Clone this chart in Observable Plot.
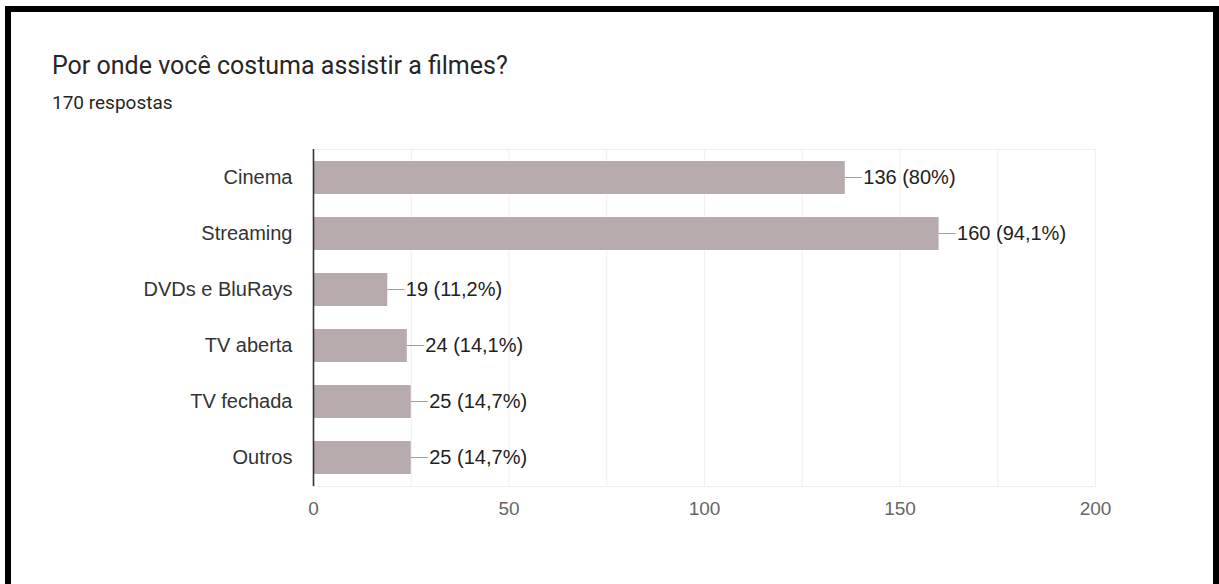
<!DOCTYPE html>
<html>
<head>
<meta charset="utf-8">
<script src="https://cdn.jsdelivr.net/npm/d3@7"></script>
<script src="https://cdn.jsdelivr.net/npm/@observablehq/plot@0.6"></script>
<style>
  html, body { margin: 0; padding: 0; background: #fff; width: 1219px; height: 584px; overflow: hidden; font-family: Roboto, "Noto Sans", sans-serif; }
  #frame { position: absolute; left: 5px; top: 6px; right: 0; bottom: 0; border: solid #000; border-width: 6px 6px 0 6px; }
  #title { position: absolute; left: 52px; top: 51px; font-size: 25px; color: #262626; white-space: nowrap; }
  #subtitle { position: absolute; left: 52px; top: 91px; font-size: 19px; color: #262626; white-space: nowrap; }
  #chart { position: absolute; left: 0; top: 120px; }
</style>
</head>
<body>
<div id="frame"></div>
<div id="title">Por onde você costuma assistir a filmes?</div>
<div id="subtitle">170 respostas</div>
<div id="chart"></div>
<script>
const categories = ["Cinema", "Streaming", "DVDs e BluRays", "TV aberta", "TV fechada", "Outros"];
const counts = [136, 160, 19, 24, 25, 25];
const percents = ["80%", "94,1%", "11,2%", "14,1%", "14,7%", "14,7%"];
const xTicks = [0, 50, 100, 150, 200];
const gridTicks = [25, 50, 75, 100, 125, 150, 175, 200];

const data = categories.map((c, i) => ({category: c, count: counts[i], label: `${counts[i]} (${percents[i]})`}));

const leaderLen = 17;
const chartFont = "'Liberation Sans', Arial, sans-serif";

const leaders = (index, scales, values, dimensions) => {
  const g = d3.create("svg:g");
  const bw = scales.y.bandwidth ? scales.y.bandwidth() : 0;
  for (const d of data) {
    const x0 = scales.x(d.count);
    const y0 = scales.y(d.category) + bw / 2;
    g.append("line")
      .attr("x1", x0).attr("x2", x0 + leaderLen)
      .attr("y1", y0).attr("y2", y0)
      .attr("stroke", "#9e9e9e").attr("stroke-width", 1);
  }
  return g.node();
};

const chart = Plot.plot({
  width: 1219,
  height: 400,
  marginLeft: 313,
  marginRight: 124,
  marginTop: 29,
  marginBottom: 34,
  style: {fontFamily: chartFont, fontSize: "19px", background: "transparent", overflow: "visible"},
  x: {domain: [0, 200], ticks: xTicks, tickSize: 0, tickPadding: 15, label: null},
  y: {domain: categories, paddingInner: 0.41, paddingOuter: 0.2, tickSize: 0, tickPadding: 21, label: null},
  marks: [
    Plot.frame({stroke: "#efefef"}),
    Plot.ruleX(gridTicks, {stroke: "#efefef", strokeWidth: 1}),
    Plot.barX(data, {x: "count", y: "category", fill: "#b8abae"}),
    Plot.ruleX([0], {stroke: "#333", strokeWidth: 1.6}),
    leaders,
    Plot.text(data, {x: "count", y: "category", text: "label", textAnchor: "start", dx: leaderLen + 1, fill: "#222", fontSize: 20}),
    Plot.axisX({ticks: xTicks, tickSize: 0, tickPadding: 15, color: "#666", fontSize: 19, label: null}),
    Plot.axisY({tickSize: 0, tickPadding: 21, color: "#333", fontSize: 20, label: null})
  ]
});
document.getElementById("chart").appendChild(chart);
</script>
</body>
</html>
